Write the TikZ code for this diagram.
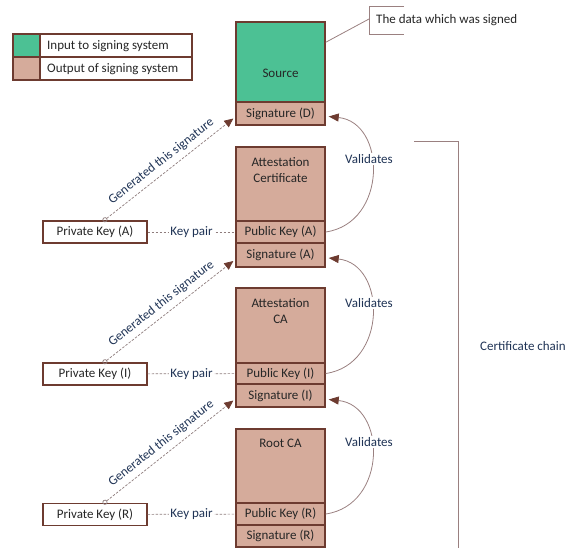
\documentclass[tikz,border=0pt]{standalone}
\usepackage{fontspec}
\setmainfont{Carlito}
\usetikzlibrary{arrows.meta,calc}

\definecolor{inputgreen}{HTML}{4CC194}
\definecolor{outputbrown}{HTML}{D5AB9B}
\definecolor{edgebrown}{HTML}{6D3B30}
\definecolor{labelnavy}{HTML}{1F3355}
\definecolor{arcgray}{HTML}{9A8080}
\definecolor{dashgray}{HTML}{8E7C7C}

\begin{document}
\begin{tikzpicture}[x=1pt,y=-1pt,
  font=\fontsize{13}{16}\selectfont,
  cell/.style={draw=edgebrown, line width=1.4pt, fill=outputbrown,
    minimum width=89pt, inner sep=0pt, text=black!85},
  keybox/.style={draw=edgebrown, line width=1.4pt, fill=white,
    minimum width=104pt, minimum height=22pt, inner sep=0pt, text=black!85},
  title/.style={align=center, text=black!85, inner sep=0pt},
  note/.style={text=labelnavy, inner sep=1pt},
  gen/.style={dashgray, line width=0.7pt, dash pattern=on 2.5pt off 1.5pt,
    {Circle[open,length=5pt,width=5pt,line width=0.7pt]}-{Triangle[length=9pt,width=8pt,color=edgebrown]}},
  pairline/.style={dashgray, line width=0.7pt, dash pattern=on 2.5pt off 1.5pt},
  valid/.style={arcgray, line width=0.8pt, -{Triangle[length=10pt,width=8pt,color=edgebrown]}},
  thin/.style={arcgray, line width=0.8pt}]
\useasboundingbox (0,0) rectangle (569,548);

% legend
\node[cell, fill=inputgreen, minimum width=27pt, minimum height=23pt] (swIn) at (26.5,45.5) {};
\node[cell, minimum width=27pt, minimum height=23pt] (swOut) at (26.5,68.5) {};
\node[cell, fill=white, minimum width=152pt, minimum height=23pt] (lgIn) at (116,45.5) {};
\node[cell, fill=white, minimum width=152pt, minimum height=23pt] (lgOut) at (116,68.5) {};
\node[anchor=west, inner sep=0pt, text=black!85] (lgInText) at (47,46) {Input to signing system};
\node[anchor=west, inner sep=0pt, text=black!85] (lgOutText) at (47,69) {Output of signing system};

% signed data
\node[cell, fill=inputgreen, minimum height=80pt] (src) at (280.5,62) {};
\node[title] (srcT) at (280.5,73) {Source};
\node[cell, minimum height=23pt] (sigD) at (280.5,113.5) {Signature (D)};

% attestation certificate
\node[cell, minimum height=74pt] (attA) at (280.5,184) {};
\node[title] (attAT) at (280.5,170) {Attestation\\Certificate};
\node[cell, minimum height=22pt] (pubA) at (280.5,232) {Public Key (A)};
\node[cell, minimum height=24pt] (sigA) at (280.5,255) {Signature (A)};

% attestation CA
\node[cell, minimum height=75pt] (attI) at (280.5,325.5) {};
\node[title] (attIT) at (280.5,311) {Attestation\\CA};
\node[cell, minimum height=21pt] (pubI) at (280.5,373.5) {Public Key (I)};
\node[cell, minimum height=23pt] (sigI) at (280.5,395.5) {Signature (I)};

% root CA
\node[cell, minimum height=74pt] (rootR) at (280.5,466) {};
\node[title] (rootRT) at (280.5,443) {Root CA};
\node[cell, minimum height=22pt] (pubR) at (280.5,514) {Public Key (R)};
\node[cell, minimum height=22pt] (sigR) at (280.5,536) {Signature (R)};

% private keys
\node[keybox] (pkA) at (95,232) {Private Key (A)};
\node[keybox] (pkI) at (95,374) {Private Key (I)};
\node[keybox] (pkR) at (95,514.5) {Private Key (R)};

% key pairs
\draw[pairline] (pkA) -- node[note, fill=white] (kpA) {Key pair} (pubA);
\draw[pairline] (pkI) -- node[note, fill=white] (kpI) {Key pair} (pubI);
\draw[pairline] (pkR) -- node[note, fill=white] (kpR) {Key pair} (pubR);

% signing
\draw[gen] ($(pkA.north)+(8,1)$) -- node[note, above=4pt, sloped] (gA) {Generated this signature} ($(sigD.west)+(-2,5)$);
\draw[gen] ($(pkI.north)+(8,1)$) -- node[note, above=4pt, sloped] (gI) {Generated this signature} ($(sigA.west)+(-2,6)$);
\draw[gen] ($(pkR.north)+(8,1)$) -- node[note, above=4pt, sloped] (gR) {Generated this signature} ($(sigI.west)+(-2,5)$);

% validation
\draw[valid] (pubA.east) .. controls +(62,-9) and +(58,6) .. ($(sigD.east)+(3,3)$);
\node[note, fill=white] (vA) at (369,159) {Validates};
\draw[valid] (pubI.east) .. controls +(62,-9) and +(58,6) .. ($(sigA.east)+(3,3)$);
\node[note, fill=white] (vI) at (369,303) {Validates};
\draw[valid] (pubR.east) .. controls +(62,-9) and +(58,6) .. ($(sigI.east)+(3,4)$);
\node[note, fill=white] (vR) at (369,442) {Validates};

% certificate chain bracket
\coordinate (chainTop) at (414,141);
\coordinate (chainCorner) at (458,141);
\coordinate (chainEnd) at (458,548);
\draw[thin] (chainTop) -- (chainCorner) -- (chainEnd);
\node[note] (chainT) at (523,346) {Certificate chain};

% callout
\coordinate (cA) at (404,6);
\coordinate (cB) at (369,6);
\coordinate (cC) at (369,34);
\coordinate (cD) at (404,34);
\draw[thin] (cA) -- (cB) -- (cC) -- (cD);
\node[anchor=west, inner sep=0pt, text=black!85] (calloutT) at (376,20) {The data which was signed};
\coordinate (cLead) at (369,19);
\draw[thin] ($(src.north east)+(0,21)$) -- (cLead);
\end{tikzpicture}
\end{document}
